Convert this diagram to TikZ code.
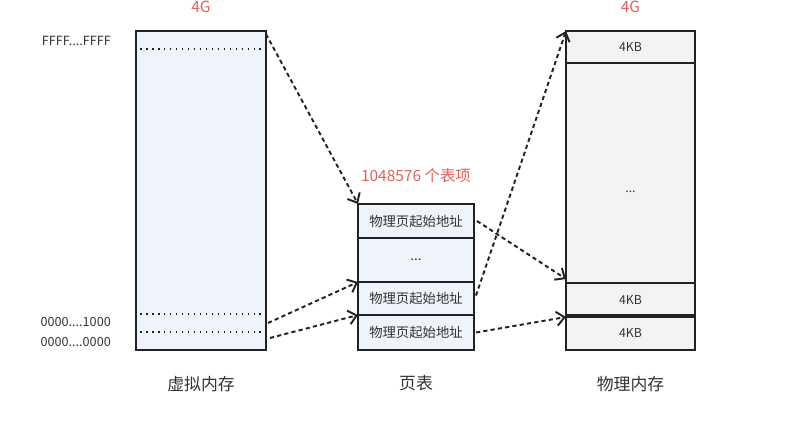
\documentclass[tikz,border=0pt]{standalone}
\usepackage{fontspec}
\setmainfont{Noto Sans CJK SC}
\usetikzlibrary{arrows.meta,positioning,calc}
\definecolor{vmInk}{HTML}{222222}
\definecolor{vmText}{HTML}{333333}
\definecolor{vmRed}{HTML}{E0605A}
\definecolor{vmBlueFill}{HTML}{EEF3FC}
\definecolor{vmGreyFill}{HTML}{F3F3F3}
\tikzset{
  vmBox/.style={draw=vmInk,line width=1pt,inner sep=0pt,outer sep=0pt},
  vmVirtual/.style={fill=vmBlueFill},
  vmTable/.style={fill=vmBlueFill,font=\fontsize{7.6}{9}\selectfont,text=vmText},
  vmPhysical/.style={fill=vmGreyFill,font=\fontsize{7}{8}\selectfont,text=vmText}
}

\begin{document}
\begin{tikzpicture}[x=0.02cm,y=-0.02cm,
  arrow/.style={-{Straight Barb[length=1.6mm,width=2.8mm]}, line width=1.1pt,
    dash pattern=on 2.4pt off 1.8pt, draw=vmInk},
  dotline/.style={line width=1.2pt, dash pattern=on 0.9pt off 2.5pt, draw=vmInk},
  addr/.style={font=\fontsize{7.2}{9}\selectfont, text=vmText, anchor=east},
  caption/.style={font=\fontsize{9.6}{11}\selectfont, text=vmText},
  size/.style={font=\fontsize{8.8}{10}\selectfont, text=vmRed}
]
\useasboundingbox (0,0) rectangle (802,434);
% virtual memory
\node[vmBox,vmVirtual,minimum width=2.6cm,minimum height=6.38cm] (virt) at (201,190.5) {};
\draw[dotline] (140,49) -- (263,49);
\draw[dotline] (140,314) -- (263,314);
\draw[dotline] (140,332) -- (263,332);
\node[size] (virtsize) at (201,7) {4G};
\node[addr] (high) at (117,41) {FFFF....FFFF};
\node[addr] (second) at (117,322) {0000....1000};
\node[addr] (low) at (117,342) {0000....0000};
\node[caption] (virtname) at (201,384) {虚拟内存};
% page table
\node[vmBox,vmTable,minimum width=2.32cm,minimum height=0.68cm] (entry1) at (416,221) {物理页起始地址};
\node[vmBox,vmTable,minimum width=2.32cm,minimum height=0.88cm] (entrydots) at (416,260) {...};
\node[vmBox,vmTable,minimum width=2.32cm,minimum height=0.66cm] (entry2) at (416,298.5) {物理页起始地址};
\node[vmBox,vmTable,minimum width=2.32cm,minimum height=0.70cm] (entry3) at (416,332.5) {物理页起始地址};
\node[size] (count) at (416,176) {1048576 个表项};
\node[caption] (tablename) at (416,383) {页表};
% physical memory
\node[vmBox,vmPhysical,minimum width=2.58cm,minimum height=0.64cm] (page1) at (630.5,47) {4KB};
\node[vmBox,vmPhysical,minimum width=2.58cm,minimum height=4.4cm] (pagedots) at (630.5,173) {};
\node[vmPhysical] (dots) at (630.5,192) {...};
\node[vmBox,vmPhysical,minimum width=2.58cm,minimum height=0.66cm] (page2) at (630.5,299.5) {4KB};
\node[vmBox,vmPhysical,minimum width=2.58cm,minimum height=0.68cm] (page3) at (630.5,333) {4KB};
\draw[line width=2pt,draw=vmInk] (page3.north west) -- (page3.north east);
\node[size] (physsize) at (630.5,7) {4G};
\node[caption] (physname) at (630.5,384) {物理内存};
% mappings
\draw[arrow] ($(virt.north east)+(0,3)$) -- (entry1.north west);
\draw[arrow] ($(virt.south east)+(2,-27)$) -- (entry2.north west);
\draw[arrow] ($(virt.south east)+(4,-12)$) -- (entry3.north west);
\draw[arrow] ($(entry1.east)+(3,0)$) -- ($(page2.north west)+(0,-4)$);
\draw[arrow] ($(entry2.east)+(2,-3)$) -- (page1.north west);
\draw[arrow] ($(entry3.east)+(2,0)$) -- ($(page3.north west)+(0,1)$);
\end{tikzpicture}
\end{document}
